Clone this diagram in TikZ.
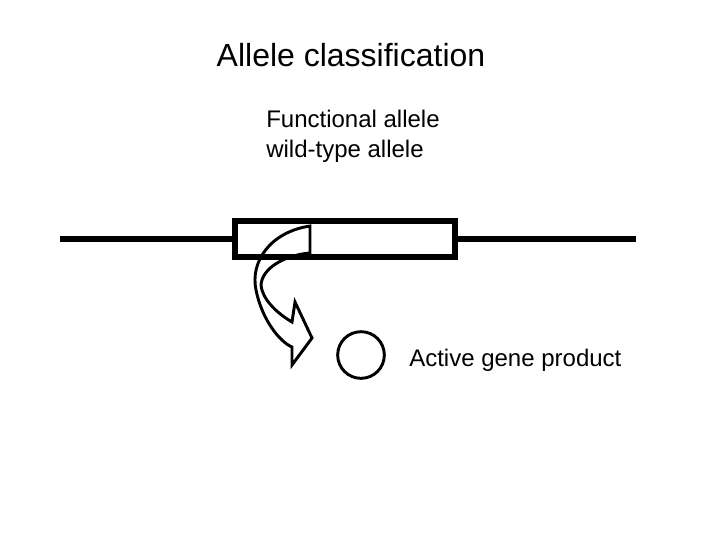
\documentclass[tikz,border=0pt]{standalone}
\usepackage{fontspec}
\setmainfont{Liberation Sans}
\begin{document}
\begin{tikzpicture}[x=0.75pt,y=-0.75pt,
  thk/.style={line width=3.8pt},
  lbl/.style={inner sep=0,anchor=west,font=\fontsize{18}{22.5}\selectfont}]
\useasboundingbox (0,0) rectangle (720,540);
\node[inner sep=0,font=\fontsize{24}{28}\selectfont] (title) at (351,55) {Allele classification};
\node[lbl,align=left] (fa) at (266,136) {Functional allele\\wild-type allele};
\draw[thk] (60,239) -- (234,239);
\draw[thk] (456,239) -- (636,239);
\node[thk,draw,minimum width=165pt,minimum height=27pt,inner sep=0] (box) at (345,239) {};
\draw[line width=2.2pt,line join=miter]
  (310,226) .. controls (270,232) and (250,262) .. (256,290)
  .. controls (262,320) and (280,342) .. (292,347)
  -- (292,365) -- (312,338) -- (295,302) -- (292,322)
  .. controls (275,312) and (262,298) .. (261,285)
  .. controls (262,268) and (285,255) .. (310,253) -- cycle;
\node[draw,circle,line width=2.2pt,minimum size=35pt,inner sep=0] (prod) at (361,355) {};
\node[lbl] (ap) at (409,360) {Active gene product};
\end{tikzpicture}
\end{document}
